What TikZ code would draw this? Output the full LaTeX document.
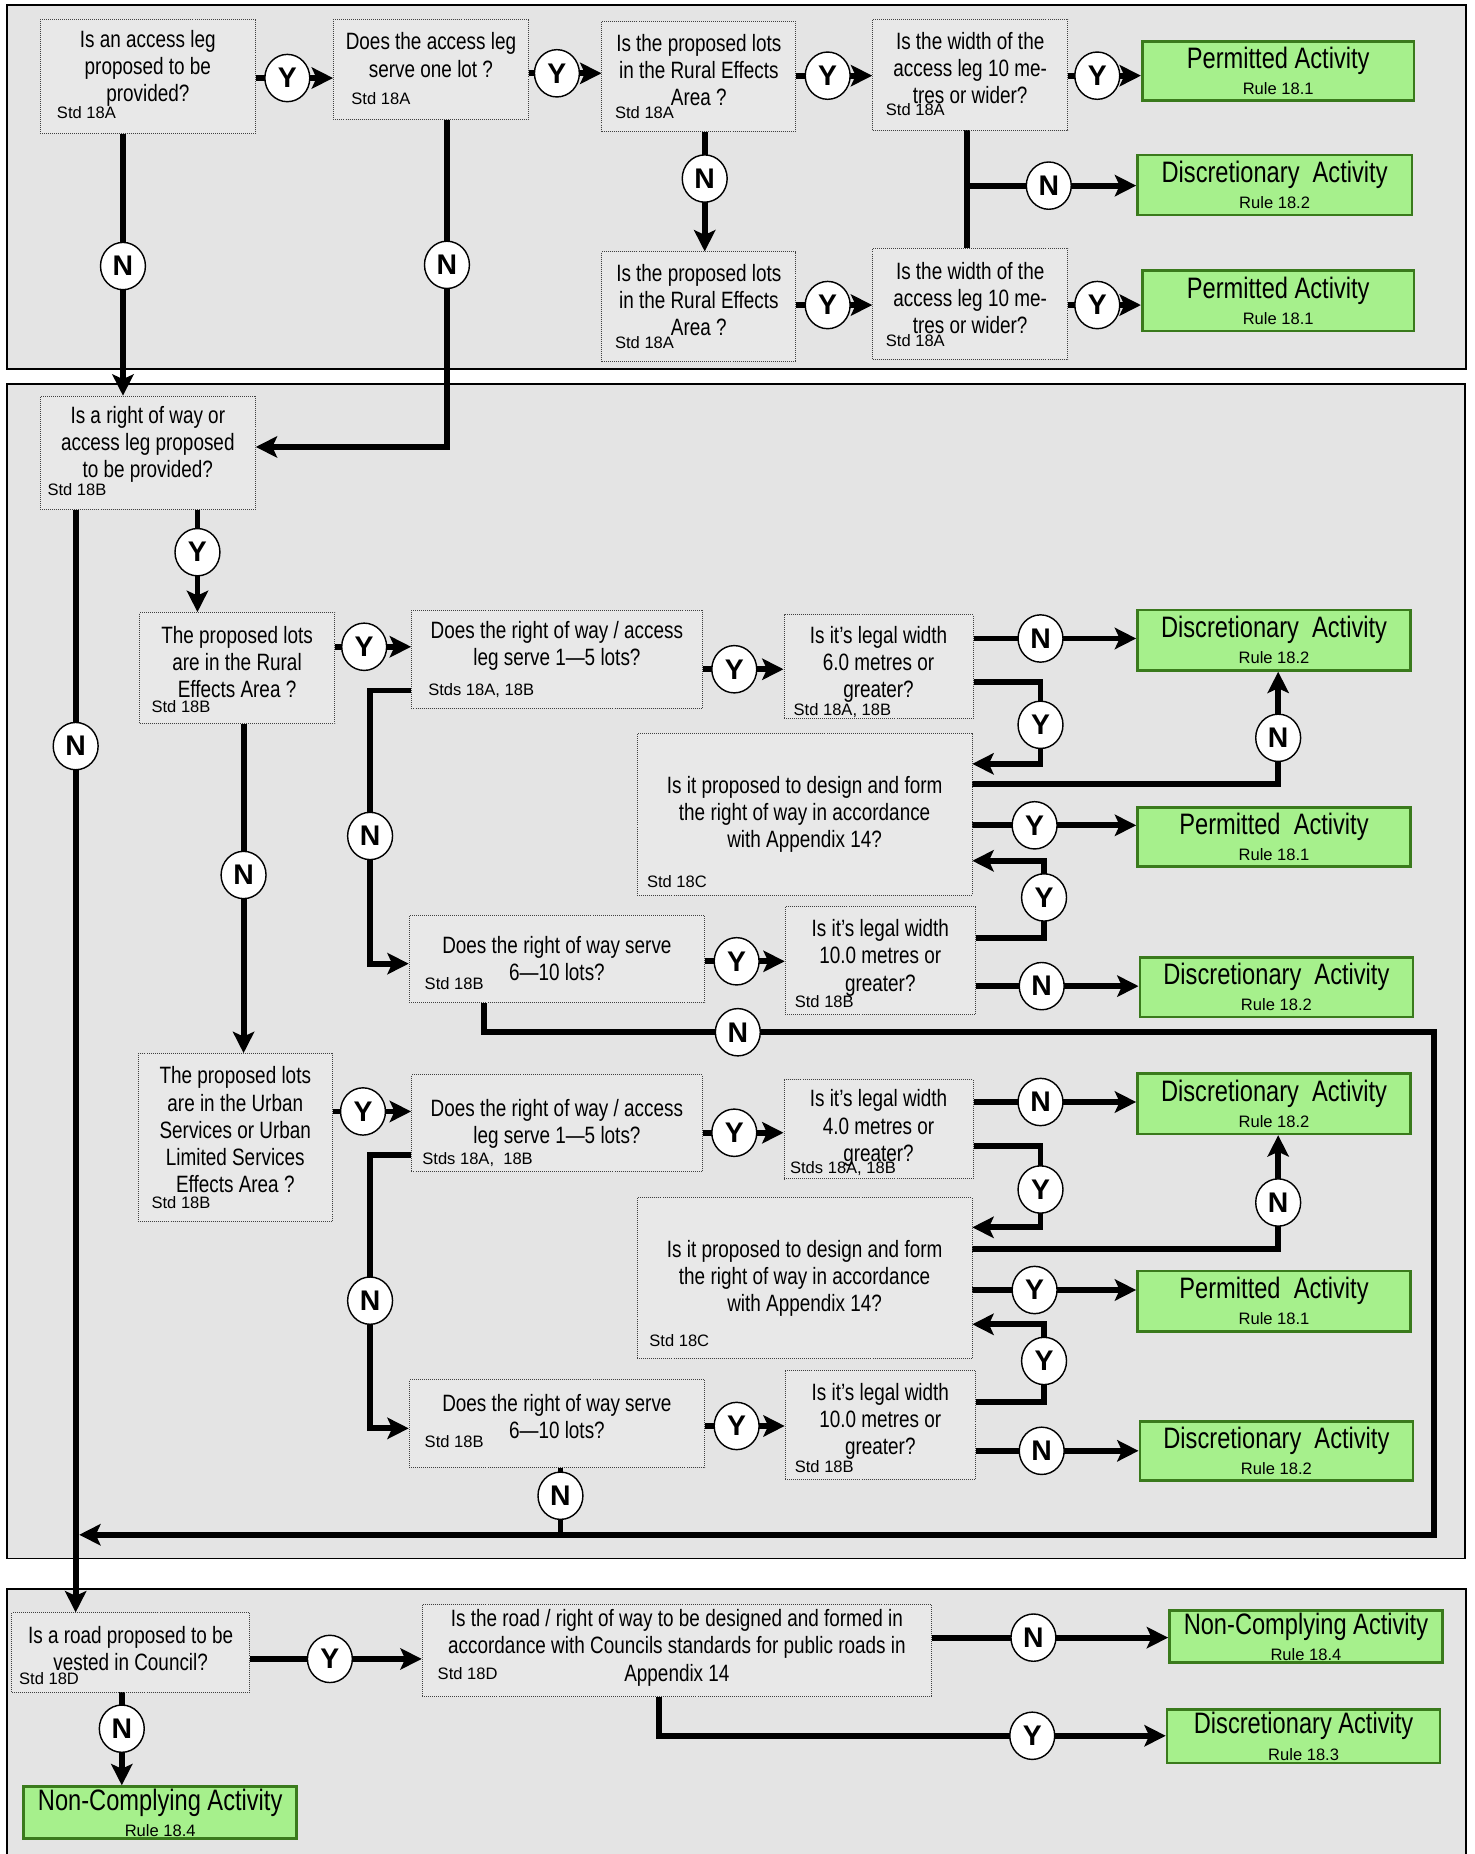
\documentclass[tikz,border=0pt]{standalone}
\usepackage{fontspec}
\setmainfont{Liberation Sans}
\newfontfamily\narrowfont[FakeStretch=0.8]{Liberation Sans}
\usetikzlibrary{arrows.meta,shapes.geometric}
\pgfdeclarelayer{panel}
\pgfdeclarelayer{lines}
\pgfsetlayers{panel,lines,main}
\definecolor{panelgray}{RGB}{228,228,228}
\definecolor{boxgray}{RGB}{232,232,232}
\definecolor{actfill}{RGB}{166,240,140}
\definecolor{actline}{RGB}{58,122,28}
\newcommand{\rulefont}{\normalfont\fontsize{14}{16}\selectfont}

\begin{document}
\begin{tikzpicture}[x=1pt,y=-1pt,
	qbox/.style={draw=black!75, densely dotted, line width=0.7pt, fill=boxgray, inner sep=0pt},
	qtext/.style={align=center, inner sep=0pt, font=\narrowfont\fontsize{20}{23}\selectfont},
	std/.style={anchor=west, inner sep=0pt, font=\fontsize{14}{14}\selectfont},
	act/.style={draw=actline, line width=2.2pt, fill=actfill, align=center, inner sep=0pt, font=\narrowfont\fontsize{25}{22}\selectfont},
	yn/.style={draw, ellipse, line width=1.2pt, fill=white, minimum width=38pt, minimum height=40pt, inner sep=0pt, font=\bfseries\fontsize{24}{24}\selectfont},
	flow/.style={line width=5pt},
	arr/.style={line width=5pt, -{Stealth[length=18pt,width=18pt,inset=4pt]}}]
	\useasboundingbox (0,0) rectangle (1247,1568);

	% top panel
	\node (a1)[qbox, minimum width=182pt, minimum height=97pt] at (125,64.5) {};
	\node (a1t)[qtext] at (125,58) {Is an access leg\\proposed to be\\provided?};
	\node (a1s)[std] at (48,95) {Std 18A};
	\node (a2)[qbox, minimum width=165pt, minimum height=85pt] at (364.5,58.5) {};
	\node (a2t)[qtext] at (364.5,46.5) {Does the access leg\\serve one lot ?};
	\node (a2s)[std] at (297,83) {Std 18A};
	\node (a3)[qbox, minimum width=164pt, minimum height=93pt] at (591,64.5) {};
	\node (a3t)[qtext] at (591,59) {Is the proposed lots\\in the Rural Effects\\Area ?};
	\node (a3s)[std] at (520,95) {Std 18A};
	\node (a4)[qbox, minimum width=165pt, minimum height=94pt] at (820.5,63) {};
	\node (a4t)[qtext] at (820.5,57.5) {Is the width of the\\access leg 10 me-\\tres or wider?};
	\node (a4s)[std] at (749,93) {Std 18A};
	\node (p1)[act, minimum width=230pt, minimum height=50pt] at (1081,60) {Permitted Activity\\{\rulefont Rule 18.1}};
	\node (d1)[act, minimum width=232pt, minimum height=51pt] at (1078,156.5) {Discretionary\ \ Activity\\{\rulefont Rule 18.2}};
	\node (a5)[qbox, minimum width=164pt, minimum height=93pt] at (591,259.5) {};
	\node (a5t)[qtext] at (591,254) {Is the proposed lots\\in the Rural Effects\\Area ?};
	\node (a5s)[std] at (520,290) {Std 18A};
	\node (a6)[qbox, minimum width=165pt, minimum height=94pt] at (820.5,257) {};
	\node (a6t)[qtext] at (820.5,252) {Is the width of the\\access leg 10 me-\\tres or wider?};
	\node (a6s)[std] at (749,288) {Std 18A};
	\node (p2)[act, minimum width=230pt, minimum height=51pt] at (1081,254.5) {Permitted Activity\\{\rulefont Rule 18.1}};

	\node (y1)[yn] at (243,66) {Y};
	\node (y2)[yn] at (471,62) {Y};
	\node (y3)[yn] at (700,64) {Y};
	\node (y4)[yn] at (928,64) {Y};
	\node (n1)[yn] at (104,225) {N};
	\node (n2)[yn] at (378,224) {N};
	\node (n3)[yn] at (596,151) {N};
	\node (n4)[yn] at (887,157) {N};
	\node (y5)[yn] at (700,258) {Y};
	\node (y6)[yn] at (928,258) {Y};

	% middle panel
	\node (b1)[qbox, minimum width=182pt, minimum height=96pt] at (125,383) {};
	\node (b1t)[qtext] at (125,376) {Is a right of way or\\access leg proposed\\to be provided?};
	\node (b1s)[std] at (40,414) {Std 18B};
	\node (c1)[qbox, minimum width=165pt, minimum height=94pt] at (200.5,565) {};
	\node (c1t)[qtext] at (200.5,560) {The proposed lots\\are in the Rural\\Effects Area ?};
	\node (c1s)[std] at (128,598) {Std 18B};
	\node (c2)[qbox, minimum width=246pt, minimum height=83pt] at (471,557.5) {};
	\node (c2t)[qtext] at (471,546.5) {Does the right of way / access\\leg serve 1—5 lots?};
	\node (c2s)[std] at (362,584) {Stds 18A, 18B};
	\node (c3)[qbox, minimum width=160pt, minimum height=88pt] at (743,564) {};
	\node (c3t)[qtext] at (743,562) {Is it’s legal width\\6.0 metres or\\greater?};
	\node (c3s)[std] at (671,601) {Std 18A, 18B};
	\node (d2)[act, minimum width=231pt, minimum height=51pt] at (1077.5,541.5) {Discretionary\ \ Activity\\{\rulefont Rule 18.2}};
	\node (c4)[qbox, minimum width=283pt, minimum height=137pt] at (680.5,688.5) {};
	\node (c4t)[qtext] at (680.5,689) {Is it proposed to design and form\\the right of way in accordance\\with Appendix 14?};
	\node (c4s)[std] at (547,746) {Std 18C};
	\node (p3)[act, minimum width=231pt, minimum height=50pt] at (1077.5,708) {Permitted\ \ Activity\\{\rulefont Rule 18.1}};
	\node (c5)[qbox, minimum width=250pt, minimum height=74pt] at (471,811) {};
	\node (c5t)[qtext] at (471,811) {Does the right of way serve\\6—10 lots?};
	\node (c5s)[std] at (359,832) {Std 18B};
	\node (c7)[qbox, minimum width=161pt, minimum height=91pt] at (744.5,812.5) {};
	\node (c7t)[qtext] at (744.5,810) {Is it’s legal width\\10.0 metres or\\greater?};
	\node (c7s)[std] at (672,847) {Std 18B};
	\node (d3)[act, minimum width=231pt, minimum height=50pt] at (1079.5,835) {Discretionary\ \ Activity\\{\rulefont Rule 18.2}};

	\node (c6)[qbox, minimum width=164pt, minimum height=142pt] at (199,962) {};
	\node (c6t)[qtext] at (199,955.5) {The proposed lots\\are in the Urban\\Services or Urban\\Limited Services\\Effects Area ?};
	\node (c6s)[std] at (128,1017) {Std 18B};
	\node (c8)[qbox, minimum width=246pt, minimum height=82pt] at (471,950) {};
	\node (c8t)[qtext] at (471,950.5) {Does the right of way / access\\leg serve 1—5 lots?};
	\node (c8s)[std] at (357,981) {Stds 18A,\ \ 18B};
	\node (c9)[qbox, minimum width=160pt, minimum height=84pt] at (743,955) {};
	\node (c9t)[qtext] at (743,954) {Is it’s legal width\\4.0 metres or\\greater?};
	\node (c9s)[std] at (668,988) {Stds 18A, 18B};
	\node (d4)[act, minimum width=231pt, minimum height=51pt] at (1077.5,933.5) {Discretionary\ \ Activity\\{\rulefont Rule 18.2}};
	\node (c10)[qbox, minimum width=283pt, minimum height=136pt] at (680.5,1081) {};
	\node (c10t)[qtext] at (680.5,1081) {Is it proposed to design and form\\the right of way in accordance\\with Appendix 14?};
	\node (c10s)[std] at (549,1134) {Std 18C};
	\node (p4)[act, minimum width=231pt, minimum height=51pt] at (1077.5,1100.5) {Permitted\ \ Activity\\{\rulefont Rule 18.1}};
	\node (c11)[qbox, minimum width=250pt, minimum height=74pt] at (471,1204) {};
	\node (c11t)[qtext] at (471,1198) {Does the right of way serve\\6—10 lots?};
	\node (c11s)[std] at (359,1219) {Std 18B};
	\node (c12)[qbox, minimum width=161pt, minimum height=92pt] at (744.5,1205) {};
	\node (c12t)[qtext] at (744.5,1202) {Is it’s legal width\\10.0 metres or\\greater?};
	\node (c12s)[std] at (672,1240) {Std 18B};
	\node (d5)[act, minimum width=231pt, minimum height=50pt] at (1079.5,1227) {Discretionary\ \ Activity\\{\rulefont Rule 18.2}};

	\node (n5)[yn] at (64,631) {N};
	\node (y7)[yn] at (167,467) {Y};
	\node (y8)[yn] at (308,547) {Y};
	\node (y9)[yn] at (621,566) {Y};
	\node (n6)[yn] at (880,540) {N};
	\node (y10)[yn] at (880,613) {Y};
	\node (n7)[yn] at (1081,624) {N};
	\node (y11)[yn] at (875,698) {Y};
	\node (n8)[yn] at (206,740) {N};
	\node (n9)[yn] at (313,707) {N};
	\node (y12)[yn] at (623,813) {Y};
	\node (y13)[yn] at (883,759) {Y};
	\node (n10)[yn] at (881,834) {N};
	\node (n11)[yn] at (624,873) {N};
	\node (y14)[yn] at (307,940) {Y};
	\node (y15)[yn] at (621,958) {Y};
	\node (n12)[yn] at (880,932) {N};
	\node (y16)[yn] at (880,1006) {Y};
	\node (n13)[yn] at (1081,1017) {N};
	\node (y17)[yn] at (875,1091) {Y};
	\node (n14)[yn] at (313,1100) {N};
	\node (y18)[yn] at (623,1206) {Y};
	\node (y19)[yn] at (883,1151) {Y};
	\node (n15)[yn] at (881,1227) {N};
	\node (n16)[yn] at (474,1265) {N};
	\coordinate (rt) at (1213,873);
	\coordinate (rb) at (1213,1298);

	% bottom panel
	\node (e1)[qbox, minimum width=201pt, minimum height=67pt] at (110.5,1397.5) {};
	\node (e1t)[qtext] at (110.5,1394.5) {Is a road proposed to be\\vested in Council?};
	\node (e1s)[std] at (16,1420) {Std 18D};
	\node (e2)[qbox, minimum width=431pt, minimum height=78pt] at (572.5,1396) {};
	\node (e2t)[qtext] at (572.5,1393.5) {Is the road / right of way to be designed and formed in\\accordance with Councils standards for public roads in\\Appendix 14};
	\node (e2s)[std] at (370,1415) {Std 18D};
	\node (f1)[act, minimum width=231pt, minimum height=44pt] at (1104.5,1384) {Non-Complying Activity\\{\rulefont Rule 18.4}};
	\node (f2)[act, minimum width=231pt, minimum height=45pt] at (1102.5,1468.5) {Discretionary Activity\\{\rulefont Rule 18.3}};
	\node (f3)[act, minimum width=231pt, minimum height=44pt] at (135.5,1533) {Non-Complying Activity\\{\rulefont Rule 18.4}};
	\node (y20)[yn] at (279,1403) {Y};
	\node (n17)[yn] at (874,1385) {N};
	\node (y21)[yn] at (873,1468) {Y};
	\node (n18)[yn] at (103,1462) {N};

	\begin{pgfonlayer}{panel}
		\draw[line width=1.5pt, fill=panelgray] (6,4) rectangle (1240,312);
		\draw[line width=1.5pt, fill=panelgray] (6,325) rectangle (1239,1318);
		\draw[line width=1.5pt, fill=panelgray] (6,1344) rectangle (1240,1575);
	\end{pgfonlayer}

	\begin{pgfonlayer}{lines}
		\draw[arr] (a1.east |- y1)--(a2.west |- y1);
		\draw[arr] (a2.east |- y2)--(a3.west |- y2);
		\draw[arr] (a3.east |- y3)--(a4.west |- y3);
		\draw[arr] (a4.east |- y4)--(p1.west |- y4);
		\draw[arr] (n1 |- a1.south)--(n1 |- b1.north);
		\draw[arr] (n2 |- a2.south) |- ([yshift=5pt]b1.east);
		\draw[arr] (n3 |- a3.south)--(n3 |- a5.north);
		\draw[flow] (a4.south -| 818,0)--(a6.north -| 818,0);
		\draw[arr] (818,157)--(d1.west |- n4);
		\draw[arr] (a5.east |- y5)--(a6.west |- y5);
		\draw[arr] (a6.east |- y6)--(p2.west |- y6);

		\draw[arr] (y7 |- b1.south)--(y7 |- c1.north);
		\draw[arr] (n5 |- b1.south)--(n5 |- e1.north);
		\draw[arr] (c1.east |- y8)--(c2.west |- y8);
		\draw[arr] (c2.east |- y9)--(c3.west |- y9);
		\draw[arr] (c3.east |- n6)--(d2.west |- n6);
		\draw[arr] (c3.east |- 0,577) -| (y10.center) |- (c4.east |- 0,646);
		\draw[arr] (c4.east |- 0,663) -| (n7 |- d2.south);
		\draw[arr] (c4.east |- y11)--(p3.west |- y11);
		\draw[arr] (c2.west |- 0,584) -| (n9.center) |- (c5.west |- 0,815);
		\draw[arr] (n8 |- c1.south)--(n8 |- c6.north);
		\draw[arr] (c5.east |- y12)--(c7.west |- y12);
		\draw[arr] (c7.east |- 0,793) -| (y13.center) |- (c4.east |- 0,728);
		\draw[arr] (c7.east |- n10)--(d3.west |- n10);
		\draw[arr] (c5.south -| 409,0) |- (n11.center)--(rt)--(rb)--(67,1298);

		\draw[arr] (c6.east |- y14)--(c8.west |- y14);
		\draw[arr] (c8.east |- y15)--(c9.west |- y15);
		\draw[arr] (c9.east |- n12)--(d4.west |- n12);
		\draw[arr] (c9.east |- 0,969) -| (y16.center) |- (c10.east |- 0,1038);
		\draw[arr] (c10.east |- 0,1056) -| (n13 |- d4.south);
		\draw[arr] (c10.east |- y17)--(p4.west |- y17);
		\draw[arr] (c8.west |- 0,977) -| (n14.center) |- (c11.west |- 0,1208);
		\draw[arr] (c11.east |- y18)--(c12.west |- y18);
		\draw[arr] (c12.east |- 0,1186) -| (y19.center) |- (c10.east |- 0,1120);
		\draw[arr] (c12.east |- n15)--(d5.west |- n15);
		\draw[flow] (n16 |- c11.south)--(n16 |- rb);

		\draw[arr] (e1.east |- y20)--(e2.west |- y20);
		\draw[arr] (e2.east |- n17)--(f1.west |- n17);
		\draw[arr] (e2.south -| 557,0) |- (y21.center)--(f2.west |- y21);
		\draw[arr] (n18 |- e1.south)--(n18 |- f3.north);
	\end{pgfonlayer}
\end{tikzpicture}
\end{document}
